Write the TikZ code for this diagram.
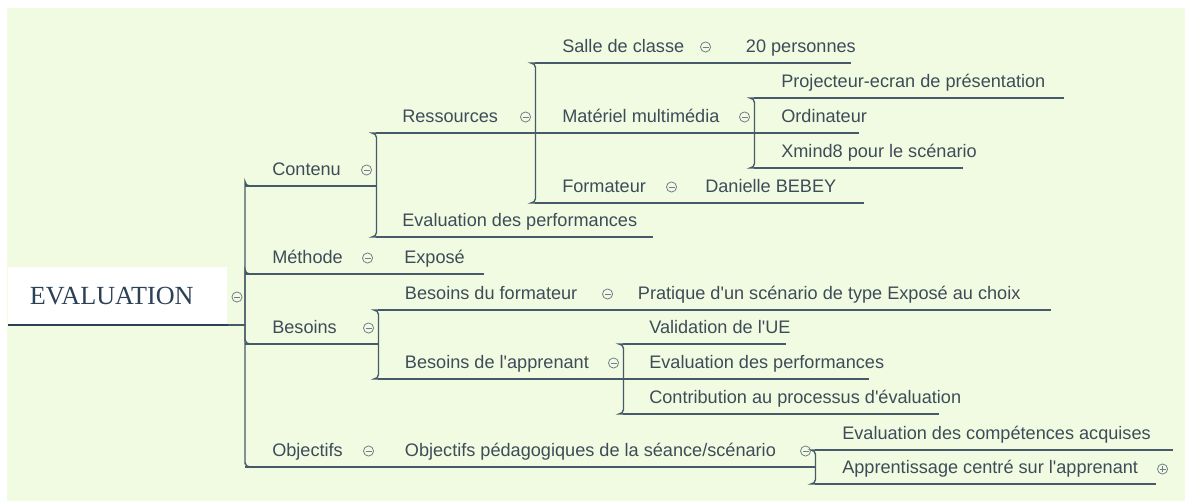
\documentclass[tikz,border=0pt]{standalone}
\usepackage{fontspec}
\setmainfont{Liberation Sans}
\newfontfamily\rootfont{Liberation Serif}
\usetikzlibrary{calc}
\definecolor{bg}{RGB}{241,251,226}
\definecolor{ln}{RGB}{70,90,106}
\definecolor{tx}{RGB}{62,76,88}
\definecolor{rootc}{RGB}{44,64,86}
\definecolor{circc}{RGB}{112,126,136}
\tikzset{
  topic/.style={anchor=south west, inner sep=0pt, text height=9pt, text depth=7.5pt,
    font=\fontsize{13.6}{16}\selectfont, text=tx},
  conn/.style={draw=ln, line width=1pt, rounded corners=3.5pt},
  uline/.style={draw=ln, line width=1pt},
  rootnode/.style={anchor=south west, inner sep=0pt, fill=white,
    minimum width=164.25pt, minimum height=43.5pt,
    font=\rootfont\fontsize{19.6}{22}\selectfont, text=rootc},
  rootline/.style={draw=rootc, line width=2.2pt},
  circ/.style={draw=circc, line width=0.6pt}
}
\newcommand\tnode[6]{\node[topic] (#1) at (#2,#3) {\makebox[\dimexpr 0.75pt*(#4-#2)\relax][l]{\hspace*{#5pt}#6}};
  \draw[uline] (#1.south west) -- (#1.south east);}
\newcommand\collapsemark[1]{%
  \coordinate (cm) at ($(#1.south east)+(-10,-16)$);
  \draw[circ] (cm) circle[radius=3.8pt];
  \draw[circ] ($(cm)+(-3,0)$) -- ($(cm)+(3,0)$);}
\newcommand\q{\textquotesingle}
\begin{document}
\begin{tikzpicture}[x=0.75pt,y=-0.75pt]
\useasboundingbox (0,0) rectangle (1185,501);
\fill[white] (0,0) rectangle (1185,501);
\fill[bg] (7,8) rectangle (1185,501);

% root
\node[rootnode] (root) at (8,325) {\hspace*{-9pt}EVALUATION};
\coordinate (J) at (245,325);
\draw[rootline] (root.south west) -- (root.south east);
\draw[conn] (root.south east) -- (J);
\coordinate (rc) at (237,297);
\draw[circ] (rc) circle[radius=3.8pt];
\draw[circ] ($(rc)+(-3,0)$) -- ($(rc)+(3,0)$);

% level 1
\tnode{contenu}{245}{186}{376}{20.25}{Contenu}
\tnode{methode}{245}{274}{377}{20.25}{Méthode}
\tnode{besoins}{245}{344}{378}{20.25}{Besoins}
\tnode{objectifs}{245}{467}{378}{20.25}{Objectifs}

% Contenu branch
\tnode{ressources}{376}{133}{535}{19.5}{Ressources}
\tnode{evalperf}{376}{237}{652}{19.5}{Evaluation des performances}
\tnode{salle}{535}{63}{715}{20.25}{Salle de classe}
\tnode{personnes}{715}{63}{850}{23}{20 personnes}
\tnode{materiel}{535}{133}{754}{20.25}{Matériel multimédia}
\tnode{projecteur}{754}{98}{1063}{20.25}{Projecteur-ecran de présentation}
\tnode{ordinateur}{754}{133}{858}{20.25}{Ordinateur}
\tnode{xmind}{754}{168}{962}{20.25}{Xmind8 pour le scénario}
\tnode{formateur}{535}{203}{681}{20.25}{Formateur}
\tnode{danielle}{681}{203}{863}{18}{Danielle BEBEY}

% Méthode branch
\tnode{expose}{377}{274}{483}{20.25}{Exposé}

% Besoins branch
\tnode{besform}{378}{310}{617}{20}{Besoins du formateur}
\tnode{pratique}{617}{310}{1050}{15.5}{Pratique d\q un scénario de type Exposé au choix}
\tnode{besapp}{378}{379}{623}{20}{Besoins de l\q apprenant}
\tnode{validation}{623}{344}{785}{19.5}{Validation de l\q UE}
\tnode{evalperfb}{623}{379}{868}{19.5}{Evaluation des performances}
\tnode{contribution}{623}{414}{938}{19.5}{Contribution au processus d\q évaluation}

% Objectifs branch
\tnode{objped}{378}{467}{815}{20}{Objectifs pédagogiques de la séance/scénario}
\tnode{evalcomp}{815}{450}{1172}{20.25}{Evaluation des compétences acquises}
\tnode{apprent}{815}{484}{1155}{20.25}{Apprentissage centré sur l\q apprenant}

% connectors from root
\foreach \c in {contenu,methode,besoins,objectifs}
  \draw[conn] (J) |- (\c.south west) -- (\c.south east);

% Contenu children
\foreach \c in {ressources,evalperf}
  \draw[conn] (contenu.south east) |- (\c.south west) -- (\c.south east);
\foreach \c in {salle,formateur}
  \draw[conn] (ressources.south east) |- (\c.south west) -- (\c.south east);
\foreach \c in {projecteur,xmind}
  \draw[conn] (materiel.south east) |- (\c.south west) -- (\c.south east);

% Besoins children
\foreach \c in {besform,besapp}
  \draw[conn] (besoins.south east) |- (\c.south west) -- (\c.south east);
\foreach \c in {validation,contribution}
  \draw[conn] (besapp.south east) |- (\c.south west) -- (\c.south east);

% Objectifs children
\foreach \c in {evalcomp,apprent}
  \draw[conn] (objped.south east) |- (\c.south west) -- (\c.south east);

% collapse marks
\foreach \c in {contenu,methode,besoins,objectifs,ressources,salle,materiel,formateur,besform,besapp,objped}
  {\collapsemark{\c}}

% expand mark
\coordinate (em) at ($(apprent.south east)+(7,-15)$);
\draw[circ] (em) circle[radius=3.8pt];
\draw[circ] ($(em)+(-3,0)$) -- ($(em)+(3,0)$);
\draw[circ] ($(em)+(0,-3)$) -- ($(em)+(0,3)$);
\end{tikzpicture}
\end{document}
